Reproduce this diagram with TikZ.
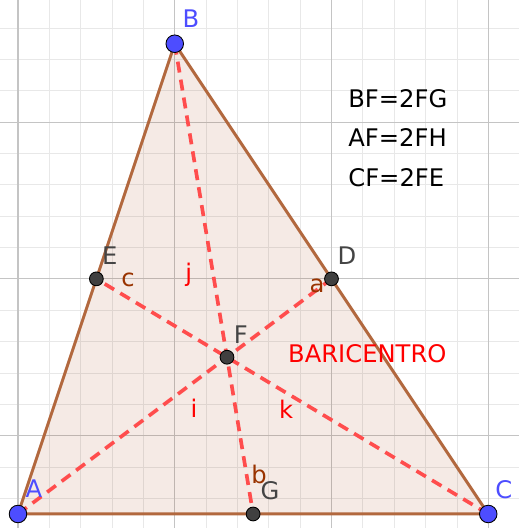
\documentclass[tikz,border=0pt]{standalone}
\usepackage{fontspec}
\setmainfont{DejaVu Sans}
\usepackage{xcolor}
\usetikzlibrary{positioning, calc}

\definecolor{gridminor}{RGB}{232,232,232}
\definecolor{gridmajor}{RGB}{196,196,196}
\definecolor{sidebrown}{RGB}{178,104,62}
\definecolor{fillbrown}{RGB}{153,51,0}
\definecolor{labelbrown}{RGB}{153,51,0}
\definecolor{medianred}{RGB}{255,77,77}
\definecolor{freeblue}{RGB}{77,77,255}
\definecolor{ptgray}{RGB}{64,64,64}
\definecolor{lblgray}{RGB}{68,68,68}

\begin{document}
\begin{tikzpicture}[
  % --- Grid ---
  minorline/.style={draw=gridminor, line width=0.7pt},
  majorline/.style={draw=gridmajor, line width=1pt},
  % --- Triangle ---
  side/.style={draw=sidebrown, line width=2.7pt, line join=round},
  median/.style={draw=medianred, line width=3.3pt,
    dash pattern=on 10pt off 6.5pt},
  % --- Points ---
  freept/.style={circle, draw=black, line width=0.8pt,
    fill=freeblue, inner sep=0pt, minimum size=0.56cm},
  midpt/.style={circle, draw=black, line width=0.8pt,
    fill=ptgray, inner sep=0pt, minimum size=0.44cm},
  % --- Labels ---
  lbl/.style={font=\fontsize{22}{26}\selectfont, inner sep=0pt, anchor=base},
  eqtext/.style={lbl, anchor=base west, text=black},
]

\useasboundingbox (-0.574,-0.447) rectangle (15.981,16.395);

% ===================== GRID =====================
\begin{scope}
  \clip (-0.574,-0.447) rectangle (15.981,16.395);
  \foreach \x in {0,...,15}
    \draw[minorline] (\x,-0.447) -- (\x,16.395);
  \foreach \y in {0.5,1.5,...,15.5}
    \draw[minorline] (-0.574,\y) -- (15.981,\y);
  \foreach \x in {0,5,10,15}
    \draw[majorline] (\x,-0.447) -- (\x,16.395);
  \foreach \y in {2.5,7.5,12.5}
    \draw[majorline] (-0.574,\y) -- (15.981,\y);
\end{scope}

% ===================== VERTICES =====================
\coordinate (A) at (0,0);
\coordinate (B) at (5,15);
\coordinate (C) at (15,0);
\coordinate (D) at ($(B)!0.5!(C)$);
\coordinate (E) at ($(A)!0.5!(B)$);
\coordinate (G) at ($(A)!0.5!(C)$);
\coordinate (F) at (20/3,5);

% ===================== TRIANGLE =====================
\fill[fillbrown, opacity=0.1] (A) -- (B) -- (C) -- cycle;
\draw[side] (A) -- (B) -- (C) -- cycle;

% ================ MEDIANS ================
\draw[median] (A) -- (D);
\draw[median] (B) -- (G);
\draw[median] (C) -- (E);

% ================ LABELS ================
\node[lbl, text=labelbrown] (lbla) at (9.54,7.05) {a};
\node[lbl, text=labelbrown] (lblb) at (7.69,0.96) {b};
\node[lbl, text=labelbrown] (lblc) at (3.51,7.27) {c};
\node[lbl, text=red] (lbli) at (5.61,3.09) {i};
\node[lbl, text=red] (lblj) at (5.45,7.40) {j};
\node[lbl, text=red] (lblk) at (8.55,3.06) {k};

\node[lbl, text=freeblue] (lblA) at (0.51,0.51) {A};
\node[lbl, text=freeblue] (lblB) at (5.52,15.53) {B};
\node[lbl, text=freeblue] (lblC) at (15.50,0.48) {C};
\node[lbl, text=lblgray] (lblD) at (10.49,7.97) {D};
\node[lbl, text=lblgray] (lblE) at (2.93,7.97) {E};
\node[lbl, text=lblgray] (lblF) at (7.11,5.45) {F};
\node[lbl, text=lblgray] (lblG) at (8.04,0.45) {G};

\node[eqtext, text=red] (bari) at (8.61,4.82) {BARICENTRO};

\node[eqtext] (eqB) at (10.53,12.98) {BF=2FG};
\node[eqtext] (eqA) at (10.53,11.71) {AF=2FH};
\node[eqtext] (eqC) at (10.53,10.46) {CF=2FE};

% ================ POINTS ================
\node[freept] (ptA) at (A) {};
\node[freept] (ptB) at (B) {};
\node[freept] (ptC) at (C) {};
\node[midpt] (ptD) at (D) {};
\node[midpt] (ptE) at (E) {};
\node[midpt] (ptF) at (F) {};
\node[midpt] (ptG) at (G) {};

\end{tikzpicture}
\end{document}
